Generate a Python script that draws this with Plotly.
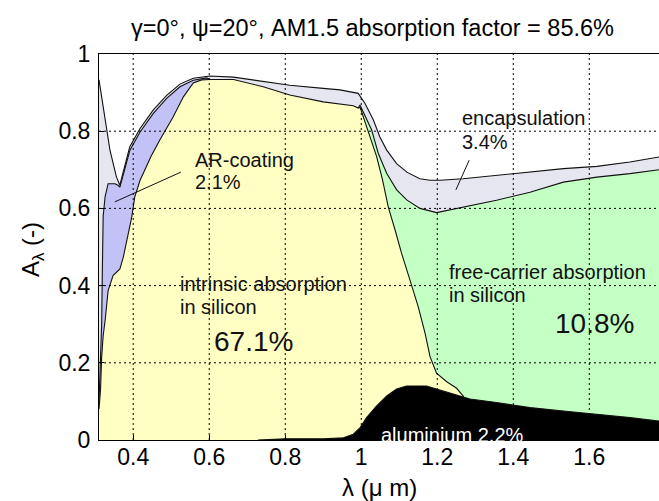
import plotly.graph_objects as go

# ---------------- data ----------------
# top of everything (encapsulation top)
lam_total = [0.310, 0.321, 0.339, 0.356, 0.365, 0.372, 0.383, 0.391, 0.418, 0.453, 0.488, 0.523,
             0.558, 0.602, 0.664, 0.742, 0.812, 0.900, 0.944, 0.992, 1.010, 1.032, 1.049, 1.067,
             1.093, 1.120, 1.154, 1.181, 1.207, 1.268, 1.356, 1.444, 1.532, 1.620, 1.707, 1.7834]
A_total = [0.933, 0.863, 0.750, 0.681, 0.660, 0.688, 0.728, 0.760, 0.807, 0.855, 0.893, 0.922,
           0.937, 0.943, 0.940, 0.928, 0.919, 0.911, 0.907, 0.898, 0.872, 0.829, 0.785, 0.751,
           0.716, 0.694, 0.677, 0.673, 0.673, 0.677, 0.686, 0.694, 0.703, 0.709, 0.720, 0.733]

# top of AR-coating layer
lam_ar = [0.310, 0.314, 0.317, 0.319, 0.321, 0.326, 0.334, 0.352, 0.360, 0.365, 0.372, 0.383,
          0.391, 0.418, 0.453, 0.488, 0.523, 0.558, 0.593, 0.602]
A_ar = [0.100, 0.200, 0.300, 0.450, 0.580, 0.630, 0.664, 0.664, 0.660, 0.655, 0.680, 0.718,
        0.750, 0.798, 0.846, 0.885, 0.915, 0.932, 0.938, 0.934]

# top of free-carrier absorption layer
lam_fc = [0.992, 0.9966, 1.0274, 1.0447, 1.0668, 1.0932, 1.1195, 1.1545, 1.1984, 1.269, 1.312,
          1.356, 1.444, 1.488, 1.532, 1.620, 1.707, 1.7834]
A_fc = [0.860, 0.868, 0.803, 0.743, 0.691, 0.648, 0.622, 0.600, 0.589, 0.603, 0.612,
        0.621, 0.642, 0.655, 0.668, 0.681, 0.690, 0.700]

# top of intrinsic absorption layer
lam_in = [0.310, 0.314, 0.317, 0.321, 0.326, 0.334, 0.347, 0.365, 0.374, 0.383, 0.396, 0.404,
          0.418, 0.426, 0.447, 0.470, 0.505, 0.532, 0.558, 0.580, 0.602, 0.664, 0.742, 0.812,
          0.900, 0.979, 0.992, 0.997, 1.018, 1.0405, 1.056, 1.071, 1.089, 1.106, 1.128, 1.150,
          1.168, 1.181, 1.198, 1.225, 1.251, 1.270]
A_in = [0.080, 0.130, 0.214, 0.270, 0.309, 0.387, 0.426, 0.443, 0.474, 0.517, 0.577, 0.629,
        0.673, 0.690, 0.735, 0.777, 0.837, 0.889, 0.925, 0.933, 0.934, 0.934, 0.915, 0.894,
        0.876, 0.866, 0.860, 0.862, 0.803, 0.734, 0.674, 0.604, 0.544, 0.484, 0.415, 0.345,
        0.276, 0.216, 0.173, 0.151, 0.134, 0.112]

# top of aluminium layer
lam_al = [0.728, 0.800, 0.900, 0.953, 0.979, 0.997, 1.014, 1.040, 1.067, 1.093, 1.119, 1.172,
          1.198, 1.242, 1.286, 1.356, 1.444, 1.532, 1.620, 1.707, 1.7834]
A_al = [0.000, 0.003, 0.003, 0.006, 0.015, 0.032, 0.058, 0.088, 0.114, 0.132, 0.140, 0.140,
        0.132, 0.119, 0.106, 0.097, 0.084, 0.075, 0.067, 0.058, 0.049]

x_ticks = [0.4, 0.6, 0.8, 1.0, 1.2, 1.4, 1.6]
x_ticktext = ["0.4", "0.6", "0.8", "1", "1.2", "1.4", "1.6"]
y_ticks = [0, 0.2, 0.4, 0.6, 0.8, 1.0]
y_ticktext = ["0", "0.2", "0.4", "0.6", "0.8", "1"]
grid_x = [0.4, 0.6, 0.8, 1.0, 1.2, 1.4, 1.6]
grid_y = [0.2, 0.4, 0.6, 0.8]

# ---------------- figure ----------------
FONT = "Liberation Sans, Arial, Helvetica, sans-serif"
LINE = "#111111"

fig = go.Figure()
layers = [
    (lam_total, A_total, "#E6E6F0"),
    (lam_ar, A_ar, "#C2C2F7"),
    (lam_fc, A_fc, "#C4FFC4"),
    (lam_in, A_in, "#FFFFC4"),
    (lam_al, A_al, "#000000"),
]
for xs, ys, col in layers:
    fig.add_trace(go.Scatter(x=xs, y=ys, mode="lines", fill="tozeroy", fillcolor=col,
                             line=dict(color=LINE, width=1.1), hoverinfo="skip",
                             showlegend=False))

DOT = dict(color="black", width=1, dash="2px,3px")
shapes = []
for gx in grid_x:
    shapes.append(dict(type="line", xref="x", yref="y", x0=gx, x1=gx, y0=0, y1=1,
                       line=DOT, layer="above"))
for gy in grid_y:
    shapes.append(dict(type="line", xref="paper", yref="y", x0=0, x1=1, y0=gy, y1=gy,
                       line=DOT, layer="above"))
# leader lines
shapes.append(dict(type="line", xref="x", yref="y", x0=0.5255, y0=0.694, x1=0.3518, y1=0.617,
                   line=dict(color=LINE, width=1), layer="above"))
shapes.append(dict(type="line", xref="x", yref="y", x0=1.284, y0=0.725, x1=1.249, y1=0.648,
                   line=dict(color=LINE, width=1), layer="above"))

TXT = "#111111"
ann = []
def label(x, y, text, size=20, color=TXT, xanchor="left", yanchor="middle", yref="y"):
    ann.append(dict(x=x, y=y, xref="x", yref=yref, text=text, showarrow=False,
                    xanchor=xanchor, yanchor=yanchor,
                    font=dict(family=FONT, size=size, color=color)))

label(0.5563, 0.725, "AR-coating")
label(0.5563, 0.669, "2.1%")
label(1.2597, 0.833, "encapsulation")
label(1.2597, 0.773, "3.4%")
label(0.5184, 0.404, "intrinsic absorption")
label(0.5184, 0.345, "in silicon")
label(0.6063, 0.255, "67.1%", size=28)
label(1.2247, 0.436, "free-carrier absorption")
label(1.2247, 0.376, "in silicon")
label(1.5053, 0.302, "10.8%", size=28)
label(1.0474, -0.020, "aluminium 2.2%", color="white", yanchor="bottom", yref="paper")

# title and axis titles
ann.append(dict(x=0.4875, y=1.067, xref="paper", yref="paper", showarrow=False,
                text="γ=0°, ψ=20°, AM1.5 absorption factor = 85.6%",
                xanchor="center", yanchor="middle",
                font=dict(family=FONT, size=23.5, color="black")))
ann.append(dict(x=0.5, y=-0.124, xref="paper", yref="paper", showarrow=False,
                text="λ (μ m)", xanchor="center", yanchor="middle",
                font=dict(family=FONT, size=24, color="black")))
ann.append(dict(x=-0.1196, y=0.492, xref="paper", yref="paper", showarrow=False,
                text="A<sub>λ</sub> (-)", textangle=-90, xanchor="center", yanchor="middle",
                font=dict(family=FONT, size=24, color="black")))

fig.update_layout(
    width=659, height=501,
    margin=dict(l=99, r=0, t=54, b=61),
    paper_bgcolor="white", plot_bgcolor="white",
    shapes=shapes, annotations=ann,
    font=dict(family=FONT, color="black"),
    xaxis=dict(range=[0.31, 1.7834], tickvals=x_ticks, ticktext=x_ticktext,
               showgrid=False, zeroline=False, showline=True, linecolor="black",
               linewidth=1, mirror=True, ticks="inside", ticklen=5, tickcolor="black",
               tickfont=dict(family=FONT, size=23, color="black"),
               ticklabelstandoff=-4, layer="above traces"),
    yaxis=dict(range=[0, 1], tickvals=y_ticks, ticktext=y_ticktext,
               showgrid=False, zeroline=False, showline=True, linecolor="black",
               linewidth=1, mirror=False, ticks="inside", ticklen=5, tickcolor="black",
               tickfont=dict(family=FONT, size=23, color="black"),
               ticklabelstandoff=3, layer="above traces"),
)

fig.write_html("out.html")
